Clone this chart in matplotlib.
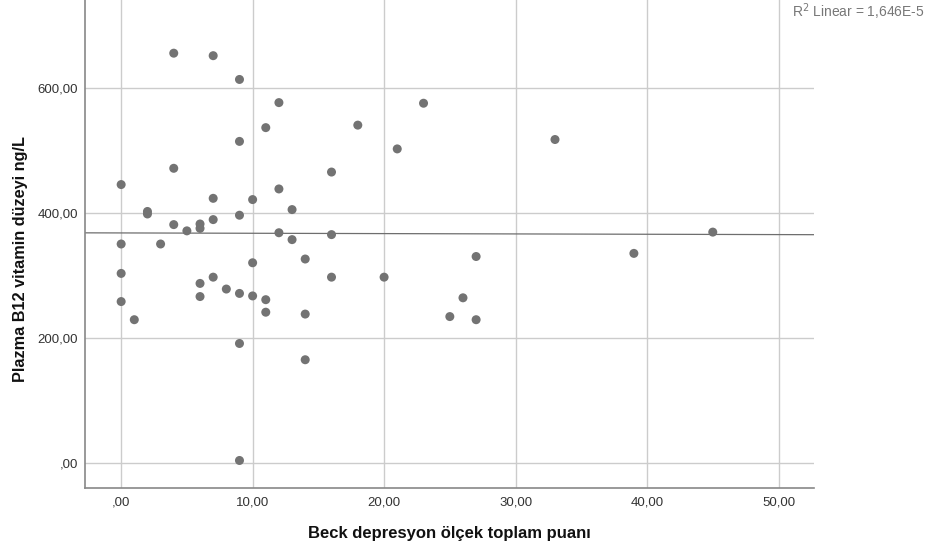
import numpy as np
import matplotlib.pyplot as plt
from matplotlib.ticker import FuncFormatter

plt.rcParams['font.family'] = ['Liberation Sans', 'DejaVu Sans']

# Beck depression score vs plasma B12
beck = [0, 0, 0, 0, 1, 2, 2, 3, 4, 4, 4, 5, 6, 6, 6, 6,
        7, 7, 7, 7, 8, 9, 9, 9, 9, 9, 9, 10, 10, 10,
        11, 11, 11, 12, 12, 12, 13, 13, 14, 14, 14,
        16, 16, 16, 18, 20, 21, 23, 25, 26, 27, 27, 33, 39, 45]
b12 = [445, 350, 303, 258, 229, 402, 398, 350, 655, 471, 381, 371, 382, 375, 287, 266,
       651, 423, 389, 297, 278, 613, 514, 396, 271, 191, 4, 421, 320, 267,
       536, 261, 241, 576, 438, 368, 405, 357, 326, 238, 165,
       465, 365, 297, 540, 297, 502, 575, 234, 264, 330, 229, 517, 335, 369]

xticks = [0, 10, 20, 30, 40, 50]
yticks = [0, 200, 400, 600]
r2_text = 'R$^2$ Linear = 1,646E-5'

fig = plt.figure(figsize=(9.26, 5.5), dpi=100)
ax = fig.add_axes([85/926, 62/550, 729/926, 488/550])

ax.scatter(beck, b12, s=42, color='#737373', edgecolors='none', zorder=3)

# linear fit line across the full axis width
xmin, xmax = -2.75, 52.7
slope, icpt = np.polyfit(beck, b12, 1)
xs = np.array([xmin, xmax])
ax.plot(xs, icpt + slope * xs, color='#6e6e6e', lw=0.9, zorder=2)

ax.set_xlim(xmin, xmax)
ax.set_ylim(-40, 740)
ax.set_xticks(xticks)
ax.set_yticks(yticks)
fmt = FuncFormatter(lambda v, p: (',00' if v == 0 else f'{v:.2f}'.replace('.', ',')))
ax.xaxis.set_major_formatter(fmt)
ax.yaxis.set_major_formatter(fmt)
ax.tick_params(length=0, labelsize=9.5, colors='#333333')
ax.tick_params(axis='x', pad=6)
ax.tick_params(axis='y', pad=5)
ax.grid(True, color='#cccccc', lw=1)
ax.set_axisbelow(True)

for s in ['top', 'right']:
    ax.spines[s].set_visible(False)
for s in ['left', 'bottom']:
    ax.spines[s].set_color('#888888')
    ax.spines[s].set_linewidth(1.2)

ax.set_xlabel('Beck depresyon ölçek toplam puanı', fontsize=12, fontweight='bold', color='#111111')
ax.xaxis.set_label_coords(0.5, -38/488)
ax.set_ylabel('Plazma B12 vitamin düzeyi ng/L', fontsize=11.7, fontweight='bold', color='#111111')
ax.yaxis.set_label_coords(-57/729, 0.469)

fig.text(0.999, 0.978, r2_text, ha='right', va='center', fontsize=10, color='#777777')

fig.savefig('out.png', dpi=100)
